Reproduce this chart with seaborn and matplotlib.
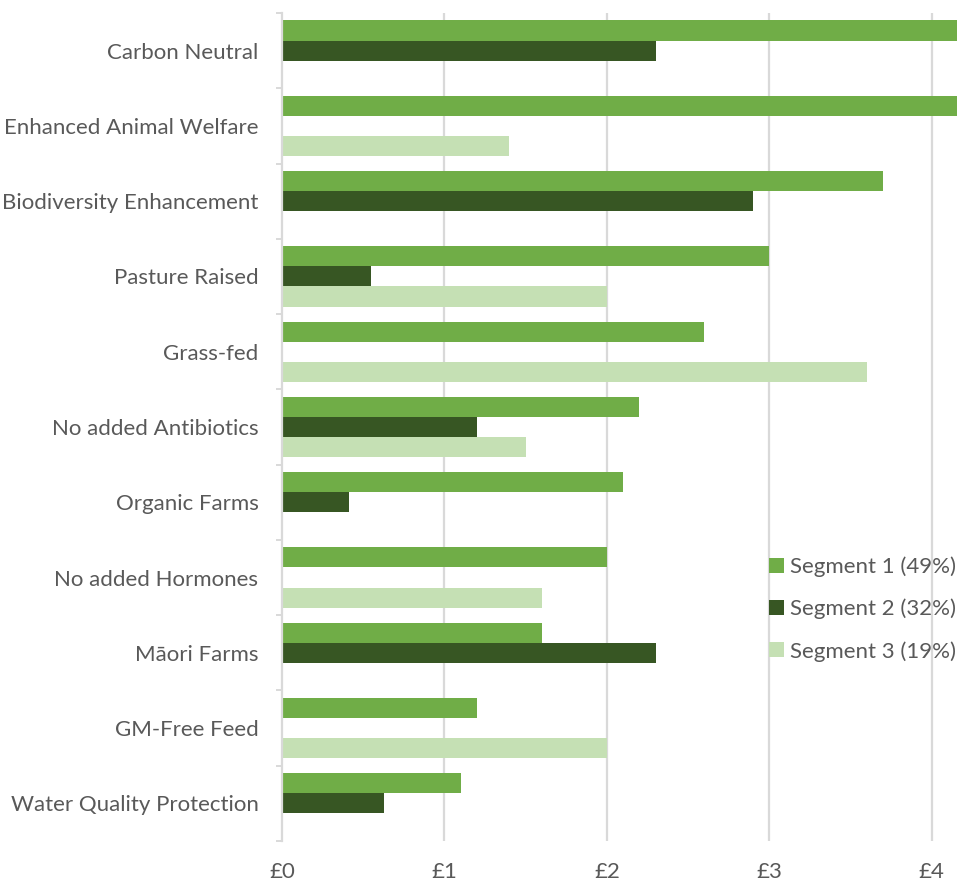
import numpy as np
import pandas as pd
import matplotlib
matplotlib.use("Agg")
import matplotlib.pyplot as plt
import seaborn as sns
from matplotlib.patches import Patch

categories = [
    "Carbon Neutral", "Enhanced Animal Welfare", "Biodiversity Enhancement",
    "Pasture Raised", "Grass-fed", "No added Antibiotics", "Organic Farms",
    "No added Hormones", "Māori Farms", "GM-Free Feed", "Water Quality Protection",
]
segments = ["Segment 1 (49%)", "Segment 2 (32%)", "Segment 3 (19%)"]
seg1 = [4.4, 4.4, 3.7, 3.0, 2.6, 2.2, 2.1, 2.0, 1.6, 1.2, 1.1]
seg2 = [2.3, np.nan, 2.9, 0.55, np.nan, 1.2, 0.41, np.nan, 2.3, np.nan, 0.63]
seg3 = [np.nan, 1.4, np.nan, 2.0, 3.6, 1.5, np.nan, 1.6, np.nan, 2.0, np.nan]
tick_values = [0, 1, 2, 3, 4]
tick_labels = ["£0", "£1", "£2", "£3", "£4"]
colors = ["#70AD47", "#375623", "#C5E0B4"]

rows = []
for seg, vals in zip(segments, [seg1, seg2, seg3]):
    for cat, v in zip(categories, vals):
        if not np.isnan(v):
            rows.append({"category": cat, "segment": seg, "value": v})
df = pd.DataFrame(rows)

sns.set_theme(style="white")
plt.rcParams["font.family"] = ["Lato", "DejaVu Sans"]
text_color = "#595959"
grid_color = "#D9D9D9"
fs = 16

fig = plt.figure(figsize=(9.57, 8.82), dpi=100)
ax = fig.add_axes([0.2947, 0.0465, 0.7053, 0.9388])

sns.barplot(
    data=df, y="category", x="value", hue="segment",
    order=categories, hue_order=segments, palette=colors,
    orient="h", width=0.8, dodge=True, errorbar=None,
    saturation=1, ax=ax, legend=False, zorder=3, linewidth=0,
)

ax.set_xlim(0, 4.155)
ax.set_ylim(len(categories) - 0.5, -0.5)
ax.set_xticks(tick_values)
ax.set_xticklabels(tick_labels)
ax.set_xlabel("")
ax.set_ylabel("")

for x in tick_values[1:]:
    ax.axvline(x, color=grid_color, lw=1.6, zorder=1)

for side in ["top", "right", "bottom"]:
    ax.spines[side].set_visible(False)
ax.spines["left"].set_color(grid_color)
ax.spines["left"].set_linewidth(1.6)
ax.spines["left"].set_zorder(4)

ax.set_yticks(np.arange(len(categories) + 1) - 0.5, minor=True)
ax.tick_params(axis="y", which="major", length=0, pad=17,
               labelsize=fs, labelcolor=text_color)
ax.tick_params(axis="y", which="minor", length=4, width=1.4,
               color=grid_color, left=True)
ax.tick_params(axis="x", length=0, pad=15, labelsize=fs, labelcolor=text_color)

handles = [Patch(facecolor=c, edgecolor="none") for c in colors]
ax.legend(
    handles, segments, loc="center left", bbox_to_anchor=(0.722, 0.280),
    frameon=False, fontsize=fs, labelcolor=text_color,
    handlelength=0.65, handleheight=0.65, handletextpad=0.3,
    labelspacing=0.97, borderaxespad=0, borderpad=0,
)

fig.savefig("out.png", dpi=100)
